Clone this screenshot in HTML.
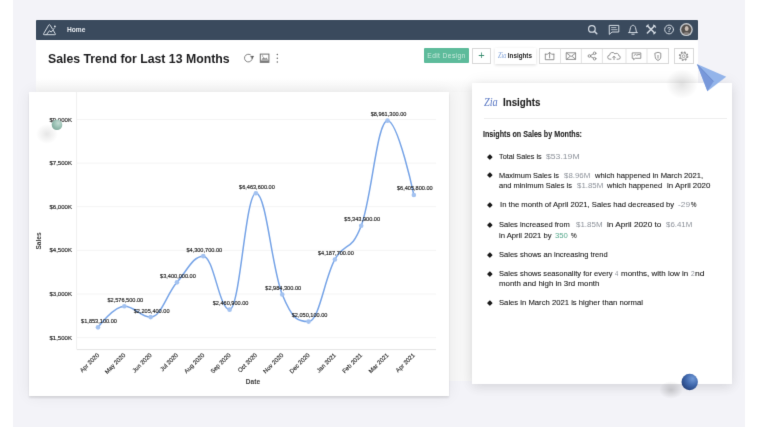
<!DOCTYPE html>
<html><head><meta charset="utf-8">
<style>
*{margin:0;padding:0;box-sizing:border-box}
html,body{width:768px;height:427px;overflow:hidden;background:#fff;font-family:"Liberation Sans",sans-serif;color:#222}
.abs{position:absolute}
#bg{left:13px;top:0;width:732px;height:427px;background:#f3f3f8}
#panel{left:36px;top:20px;width:662px;height:361px;background:#f7f7f7}
#toolbar{left:36px;top:40px;width:662px;height:38px;background:#fff}
#tbfade{left:36px;top:78px;width:662px;height:14px;background:linear-gradient(#fff,#f5f5f5)}
#nav{left:36px;top:20px;width:662px;height:20px;background:#3a4a5d;border-radius:1px}
#nav .home{position:absolute;left:31px;top:5.6px;font-size:6.6px;font-weight:bold;color:#e8ecf1}
#title{left:48px;top:51.1px;font-size:13px;transform:scaleX(0.945);transform-origin:0 0;font-weight:bold;color:#1d1d1f;white-space:nowrap}
#card{left:29px;top:92px;width:420px;height:304px;background:#fff;box-shadow:0 0 14px rgba(0,0,0,0.07),0 1.5px 2px rgba(0,0,0,0.10)}
#ins{left:472px;top:83px;width:260px;height:301px;background:#fff;box-shadow:0 0 14px rgba(0,0,0,0.07),0 4px 10px rgba(0,0,0,0.07)}
.chart{position:absolute;left:0;top:0}
.yl{font-size:6.05px;text-anchor:end;fill:#222;stroke:#222;stroke-width:0.15px}
.dl{font-size:5.6px;text-anchor:middle;fill:#1e1e1e;stroke:#1e1e1e;stroke-width:0.15px}
.xl{font-size:6px;text-anchor:end;fill:#222;stroke:#222;stroke-width:0.12px}
.at{font-size:6.6px;font-weight:bold;fill:#3c3c3c;text-anchor:middle}
.btn{position:absolute;top:48px;height:15.5px;border:1px solid #d9d9d9;background:#fff}
#edit{left:424px;top:48px;width:45px;height:14.6px;background:#5dbb9b;color:#cbe9dd;font-size:6.6px;letter-spacing:0.42px;text-align:center;line-height:15.6px;border-radius:1px;white-space:nowrap}
#plus{left:472px;width:19px;color:#3d8f73;font-size:11px;text-align:center;line-height:13px}
#insb{left:495px;top:48px;width:41px;height:16px;background:#fff;box-shadow:0 1px 3px rgba(0,0,0,0.15);font-size:6.3px;font-weight:bold;line-height:16px;white-space:nowrap}
#grp{left:539px;width:130px}
#gear{left:673.5px;width:20px}
.ins-h{left:503px;top:96px;font-size:10.6px;font-weight:bold;color:#1d1d1f}
.zia{color:#5574c0;font-style:italic;font-family:"Liberation Serif",serif}
#sep{left:484px;top:118px;width:243px;height:1px;background:#eeeeee}
#ins-sub{left:483px;top:130px;font-size:8.2px;font-weight:bold;color:#2a2a2a;white-space:nowrap}
ul.il{position:absolute;left:499px;top:151px;list-style:none;font-size:7.9px;line-height:10.7px;color:#2a2a2a;width:225px}
ul.il li{position:relative;margin-bottom:8.6px}
ul.il li:before{content:"";position:absolute;left:-9.5px;top:3.8px;width:3.2px;height:3.2px;background:#222;transform:rotate(45deg)}
.s.v{color:#8e939b;-webkit-text-stroke:0}
.s.g{color:#56a88c;-webkit-text-stroke:0}
.s,.h1,.h2{position:absolute;font-size:7.8px;line-height:1;white-space:nowrap;transform-origin:0 0;color:#1c1c1c;-webkit-text-stroke:0.1px #1c1c1c}
.h1,.h2{font-weight:bold;color:#1f1f1f}
.bu{position:absolute;left:487.9px;width:3.7px;height:3.7px;background:#1a1a1a;transform:rotate(45deg);border-radius:0.5px}
#ziah{left:483.5px;top:95.3px;font-size:12.6px;color:#5a78c4;transform:scaleX(0.82);transform-origin:0 0}
#wrap{position:absolute;left:0;top:0;width:768px;height:427px;overflow:hidden;will-change:transform;filter:url(#soft)}
</style></head><body><svg width="0" height="0" style="position:absolute"><filter id="soft" x="0" y="0" width="100%" height="100%" color-interpolation-filters="sRGB"><feConvolveMatrix order="3" kernelMatrix="0 1 0 1 8 1 0 1 0" divisor="12" edgeMode="duplicate"/></filter></svg><div id="wrap">
<div id="bg" class="abs"></div>
<div id="panel" class="abs"></div>
<div id="toolbar" class="abs"></div>
<div id="tbfade" class="abs"></div>
<div id="nav" class="abs"><span class="home">Home</span></div>
<div id="title" class="abs">Sales Trend for Last 13 Months</div>
<div id="edit" class="abs">Edit Design</div>
<div id="plus" class="btn">+</div>
<div id="insb" class="abs"><span class="zia" style="position:absolute;left:2.6px;top:0.3px;font-weight:normal;color:#86a6da;font-size:7.4px;transform:scaleX(0.85);transform-origin:0 0">Zia</span><span style="position:absolute;left:12.8px">Insights</span></div>
<div id="grp" class="btn"></div>
<div id="gear" class="btn"></div>
<svg class="chart" width="768" height="427" viewBox="0 0 768 427" style="z-index:1">
<g fill="none" stroke="#d3dae2" stroke-width="1" stroke-linejoin="round" stroke-linecap="round">
<path d="M45.8,34.7 H44.1 Q43.1,34.7 43.6,33.8 L48.7,25.1 Q49.4,24 50.1,25.1 L52.3,28.7"/>
<path d="M53.2,30.3 L55.3,33.8 Q55.8,34.7 54.8,34.7 H46.2"/>
<path d="M46.6,34.4 L49.5,30.7 L51.2,32.1 L54,28.5"/>
<circle cx="54.9" cy="26.5" r="0.9" fill="#e3e8ee" stroke="none"/>
<circle cx="591.9" cy="28.9" r="3.3" stroke-width="1.2"/>
<path d="M594.3,31.3 L596.8,33.8" stroke-width="1.5"/>
<path d="M609.6,25.4 h9.2 v6.6 h-6.8 l-2.4,2.2 Z"/>
<path d="M611.5,27.6 h4.5 M611.5,29.7 h5.5" stroke-width="0.8"/>
<path d="M628.6,32.6 h8.8 M629.6,32.6 c0.3,-1.4 0.3,-3.6 0.9,-5 c0.6,-1.5 1.5,-2.3 2.5,-2.3 c1,0 1.9,0.8 2.5,2.3 c0.6,1.4 0.6,3.6 0.9,5 M631.8,34.2 h2.4"/>
<path d="M647.4,25.8 L654.6,33 M654.6,25.8 L647.4,33" stroke-width="1.6"/><path d="M646.6,26.6 l1.6,-1.6 M653.8,33.8 l1.6,-1.6 M653.6,25.2 l2,2" stroke-width="1.2"/>
<circle cx="669.1" cy="29.5" r="4.4"/>
</g><text x="669.1" y="32.4" font-size="7.2" font-weight="bold" fill="#d3dae2" text-anchor="middle" font-family="Liberation Sans">?</text><g>
</g>
<circle cx="686.3" cy="29.6" r="6.5" fill="#c4c8cd"/>
<circle cx="686.3" cy="29.6" r="5.1" fill="#55504d"/>
<ellipse cx="686.7" cy="28.6" rx="1.9" ry="2.5" fill="#c9bdb4"/>
<path d="M683.2,33.6 c0.9,-1.8 5.6,-1.8 6.6,0 c-1.6,1.4 -5,1.4 -6.6,0 Z" fill="#8a8380"/>
<g fill="none" stroke="#777" stroke-width="0.9" stroke-linecap="round">
<path d="M250.4,54.7 A3.9,3.9 0 1 0 252.3,58.4"/>
<path d="M251,56.3 L253.6,56.3 L252.3,58.3 Z" fill="#444" stroke="#444" stroke-width="0.5"/>
</g>
<g>
<rect x="260.3" y="54.1" width="8.6" height="8.2" fill="none" stroke="#707070" stroke-width="1"/>
<rect x="260.3" y="60.4" width="8.6" height="1.9" fill="#7a7a7a"/>
<path d="M261.4,59.8 l2.2,-2.8 l1.5,1.7 l1.1,-1.2 l1.9,2.3 Z" fill="#8a8a8a"/>
<circle cx="262.6" cy="56" r="0.7" fill="#9a9a9a"/>
</g>
<g fill="#666"><circle cx="277.3" cy="54.6" r="0.75"/><circle cx="277.3" cy="58.3" r="0.75"/><circle cx="277.3" cy="62" r="0.75"/></g>
<g fill="none" stroke="#808080" stroke-width="0.85" stroke-linejoin="round" stroke-linecap="round">
<path d="M545.3,54.2 v5.5 h8.6 v-5.5 M547.3,54.2 h-2 M553.9,54.2 h-2"/>
<path d="M549.6,58 v-5.6 M548,53.9 l1.6,-1.6 l1.6,1.6"/>
<rect x="566.6" y="52.8" width="9" height="6.6"/>
<path d="M566.6,53 l4.5,3.6 l4.5,-3.6"/>
<path d="M566.8,59.2 l3,-2.6 M575.4,59.2 l-3,-2.6"/>
<circle cx="589.4" cy="56" r="1.3"/><circle cx="594.6" cy="53.3" r="1.3"/><circle cx="594.6" cy="58.7" r="1.3"/>
<path d="M590.6,55.4 l2.8,-1.5 M590.6,56.6 l2.8,1.5"/>
<path d="M611,59.2 h-1.2 a2,2 0 0 1 -0.2,-4 a2.8,2.8 0 0 1 5.3,-1.2 a2.2,2.2 0 0 1 3.8,1.6 a1.8,1.8 0 0 1 -0.5,3.6 h-1.2"/>
<path d="M614,59.6 v-3.2 M612.7,57.6 l1.3,-1.3 l1.3,1.3"/>
<path d="M632.6,52.9 h8.2 v5.4 h-5.6 l-1.6,1.5 v-1.5 h-1 Z"/>
<path d="M634,55.6 l1.6,-1.4 l1.6,1.6 M637.6,54.6 h2"/>
<path d="M655.2,53.2 l2.8,-0.9 l2.8,0.9 v3.8 c0,1.8 -1.4,2.8 -2.8,3.4 c-1.4,-0.6 -2.8,-1.6 -2.8,-3.4 Z"/>
<path d="M658,55.4 v2.8"/>
</g>
<g fill="none" stroke="#8a8a8a">
<circle cx="683.6" cy="56.2" r="4.1" stroke-width="1.3" stroke-dasharray="1.6 1.62"/>
<circle cx="683.6" cy="56.2" r="3.3" stroke-width="0.8"/>
<circle cx="683.6" cy="56.2" r="1.4" stroke-width="0.8"/>
</g>
<g stroke="#dcdcdc" stroke-width="0.8"><path d="M560.5,48.5 v14.5 M581.4,48.5 v14.5 M602.4,48.5 v14.5 M626,48.5 v14.5 M647,48.5 v14.5"/></g>
</svg>

<div id="card" class="abs"></div>
<svg class="chart" width="768" height="427" viewBox="0 0 768 427">
<line x1="77" y1="337.6" x2="436" y2="337.6" stroke="#f4f4f4" stroke-width="1"/>
<text x="72" y="339.6" class="yl">$1,500K</text>
<line x1="77" y1="294.0" x2="436" y2="294.0" stroke="#f4f4f4" stroke-width="1"/>
<text x="72" y="296.0" class="yl">$3,000K</text>
<line x1="77" y1="250.4" x2="436" y2="250.4" stroke="#f4f4f4" stroke-width="1"/>
<text x="72" y="252.4" class="yl">$4,500K</text>
<line x1="77" y1="206.7" x2="436" y2="206.7" stroke="#f4f4f4" stroke-width="1"/>
<text x="72" y="208.7" class="yl">$6,000K</text>
<line x1="77" y1="163.1" x2="436" y2="163.1" stroke="#f4f4f4" stroke-width="1"/>
<text x="72" y="165.1" class="yl">$7,500K</text>
<line x1="77" y1="119.5" x2="436" y2="119.5" stroke="#f4f4f4" stroke-width="1"/>
<text x="72" y="121.5" class="yl">$9,000K</text>
<line x1="76.6" y1="92" x2="76.6" y2="349.5" stroke="#f0f0f0" stroke-width="1"/>
<line x1="77" y1="349.6" x2="436" y2="349.6" stroke="#e4e4e4" stroke-width="1"/>
<path d="M98.00,327.33 C98.00,327.33 113.79,306.30 124.32,306.30 C134.85,306.30 140.11,317.09 150.64,317.09 C161.17,317.09 166.43,294.53 176.96,282.35 C187.49,270.16 192.75,256.16 203.28,256.16 C213.81,256.16 219.07,309.66 229.60,309.66 C240.13,309.66 245.39,193.26 255.92,193.26 C266.45,193.26 271.71,268.77 282.24,294.44 C292.77,320.11 298.03,321.60 308.56,321.60 C319.09,321.60 324.35,278.60 334.88,259.44 C345.41,240.28 350.67,253.58 361.20,225.82 C371.73,198.06 376.99,120.63 387.52,120.63 C398.05,120.63 413.84,194.94 413.84,194.94" fill="none" stroke="#77a4e7" stroke-width="1.5"/>
<circle cx="98.00" cy="327.33" r="2.3" fill="#a3c2f0"/>
<circle cx="124.32" cy="306.30" r="2.3" fill="#a3c2f0"/>
<circle cx="150.64" cy="317.09" r="2.3" fill="#a3c2f0"/>
<circle cx="176.96" cy="282.35" r="2.3" fill="#a3c2f0"/>
<circle cx="203.28" cy="256.16" r="2.3" fill="#a3c2f0"/>
<circle cx="229.60" cy="309.66" r="2.3" fill="#a3c2f0"/>
<circle cx="255.92" cy="193.26" r="2.3" fill="#a3c2f0"/>
<circle cx="282.24" cy="294.44" r="2.3" fill="#a3c2f0"/>
<circle cx="308.56" cy="321.60" r="2.3" fill="#a3c2f0"/>
<circle cx="334.88" cy="259.44" r="2.3" fill="#a3c2f0"/>
<circle cx="361.20" cy="225.82" r="2.3" fill="#a3c2f0"/>
<circle cx="387.52" cy="120.63" r="2.3" fill="#a3c2f0"/>
<circle cx="413.84" cy="194.94" r="2.3" fill="#a3c2f0"/>
<text x="99.00" y="322.83" class="dl">$1,853,100.00</text>
<text x="125.32" y="301.80" class="dl">$2,576,500.00</text>
<text x="151.64" y="312.59" class="dl">$2,205,400.00</text>
<text x="177.96" y="277.85" class="dl">$3,400,000.00</text>
<text x="204.28" y="251.66" class="dl">$4,300,700.00</text>
<text x="230.60" y="305.16" class="dl">$2,460,900.00</text>
<text x="256.92" y="188.76" class="dl">$6,463,600.00</text>
<text x="283.24" y="289.94" class="dl">$2,984,300.00</text>
<text x="309.56" y="317.10" class="dl">$2,050,100.00</text>
<text x="335.88" y="254.94" class="dl">$4,187,700.00</text>
<text x="362.20" y="221.32" class="dl">$5,343,900.00</text>
<text x="388.52" y="116.13" class="dl">$8,961,300.00</text>
<text x="414.84" y="190.44" class="dl">$6,405,800.00</text>
<text transform="translate(99.50,355.6) rotate(-45)" class="xl">Apr 2020</text>
<text transform="translate(125.82,355.6) rotate(-45)" class="xl">May 2020</text>
<text transform="translate(152.14,355.6) rotate(-45)" class="xl">Jun 2020</text>
<text transform="translate(178.46,355.6) rotate(-45)" class="xl">Jul 2020</text>
<text transform="translate(204.78,355.6) rotate(-45)" class="xl">Aug 2020</text>
<text transform="translate(231.10,355.6) rotate(-45)" class="xl">Sep 2020</text>
<text transform="translate(257.42,355.6) rotate(-45)" class="xl">Oct 2020</text>
<text transform="translate(283.74,355.6) rotate(-45)" class="xl">Nov 2020</text>
<text transform="translate(310.06,355.6) rotate(-45)" class="xl">Dec 2020</text>
<text transform="translate(336.38,355.6) rotate(-45)" class="xl">Jan 2021</text>
<text transform="translate(362.70,355.6) rotate(-45)" class="xl">Feb 2021</text>
<text transform="translate(389.02,355.6) rotate(-45)" class="xl">Mar 2021</text>
<text transform="translate(415.34,355.6) rotate(-45)" class="xl">Apr 2021</text>
<text x="253" y="383.5" class="at">Date</text>
<text transform="translate(41,241) rotate(-90)" class="at">Sales</text>
</svg>
<div id="ins" class="abs"></div>
<div id="sep" class="abs"></div>
<span id="ziah" class="abs zia">Zia</span>
<span class="s" style="left:498.70px;top:152.70px;transform:scaleX(0.930)">Total Sales is</span>
<span class="s v" style="left:546.00px;top:152.70px;transform:scaleX(1.106)">$53.19M</span>
<span class="s" style="left:498.90px;top:171.50px;transform:scaleX(0.949)">Maximum Sales is</span>
<span class="s v" style="left:564.00px;top:171.50px;transform:scaleX(1.011)">$8.96M</span>
<span class="s" style="left:594.68px;top:171.50px;transform:scaleX(0.978)">which happened in March 2021,</span>
<span class="s" style="left:498.90px;top:182.20px;transform:scaleX(0.956)">and minimum Sales is</span>
<span class="s v" style="left:577.00px;top:182.20px;transform:scaleX(1.011)">$1.85M</span>
<span class="s" style="left:607.07px;top:182.20px;transform:scaleX(0.971)">which happened</span>
<span class="s" style="left:667.00px;top:182.20px;transform:scaleX(1.011)">in April 2020</span>
<span class="s" style="left:500.00px;top:201.40px;transform:scaleX(0.985)">In the month of April 2021, Sales had decreased by</span>
<span class="s v" style="left:677.70px;top:201.40px;transform:scaleX(1.070)">-29</span>
<span class="s" style="left:691.40px;top:201.40px;transform:scaleX(0.786)">%</span>
<span class="s" style="left:498.90px;top:220.90px;transform:scaleX(0.966)">Sales increased from</span>
<span class="s v" style="left:575.90px;top:220.90px;transform:scaleX(1.023)">$1.85M</span>
<span class="s" style="left:607.00px;top:220.90px;transform:scaleX(1.054)">in April 2020 to</span>
<span class="s v" style="left:666.40px;top:220.90px;transform:scaleX(1.011)">$6.41M</span>
<span class="s" style="left:498.90px;top:231.70px;transform:scaleX(0.986)">in April 2021 by</span>
<span class="s g" style="left:555.20px;top:231.70px;transform:scaleX(0.991)">350</span>
<span class="s" style="left:571.25px;top:231.70px;transform:scaleX(0.821)">%</span>
<span class="s" style="left:498.90px;top:251.10px;transform:scaleX(0.968)">Sales shows an increasing trend</span>
<span class="s" style="left:498.90px;top:270.00px;transform:scaleX(0.966)">Sales shows seasonality for every</span>
<span class="s v" style="left:615.20px;top:270.00px;transform:scaleX(0.760)">4</span>
<span class="s" style="left:621.40px;top:270.00px;transform:scaleX(1.021)">months, with low in</span>
<span class="s v" style="left:691.40px;top:270.00px;transform:scaleX(0.850)">2</span>
<span class="s" style="left:694.80px;top:270.00px;transform:scaleX(1.092)">nd</span>
<span class="s" style="left:498.90px;top:279.80px;transform:scaleX(1.011)">month and high in 3rd month</span>
<span class="s" style="left:498.90px;top:299.30px;transform:scaleX(0.985)">Sales in March 2021 is higher than normal</span>
<i class="bu" style="top:154.55px"></i>
<i class="bu" style="top:173.35px"></i>
<i class="bu" style="top:203.25px"></i>
<i class="bu" style="top:222.75px"></i>
<i class="bu" style="top:252.95px"></i>
<i class="bu" style="top:271.85px"></i>
<i class="bu" style="top:301.15px"></i>
<span class="h2" style="left:483.20px;top:131.46px;font-size:8.2px;transform:scaleX(0.874)">Insights on Sales by Months:</span>
<span class="h1" style="left:503.40px;top:97.90px;font-size:10.4px;transform:scaleX(0.939)">Insights</span>
<svg class="chart" width="768" height="427" viewBox="0 0 768 427">
<defs>
<radialGradient id="gs" cx="0.62" cy="0.35" r="0.75"><stop offset="0" stop-color="#c3dbd3"/><stop offset="0.55" stop-color="#98bfb2"/><stop offset="1" stop-color="#7aa496"/></radialGradient>
<radialGradient id="bs" cx="0.68" cy="0.3" r="0.8"><stop offset="0" stop-color="#7199d6"/><stop offset="0.5" stop-color="#4169ad"/><stop offset="1" stop-color="#233f78"/></radialGradient>
<radialGradient id="sh"><stop offset="0" stop-color="#000" stop-opacity="0.16"/><stop offset="1" stop-color="#000" stop-opacity="0"/></radialGradient>
</defs>
<ellipse cx="47" cy="134" rx="11" ry="10" fill="url(#sh)" opacity="0.6"/>
<circle cx="57" cy="124.7" r="5.3" fill="url(#gs)"/>
<ellipse cx="682" cy="84" rx="16" ry="15" fill="url(#sh)" opacity="0.7"/>
<polygon points="696.9,64.1 726.2,76.7 707.4,91.3" fill="#93b4ea"/>
<polygon points="696.9,64.1 713.6,81.5 707.4,91.3" fill="#7898da"/>
<path d="M697.5,64.8 L713.6,81.5" stroke="#5a7cc0" stroke-width="0.6"/>
<ellipse cx="671" cy="390" rx="12" ry="9" fill="url(#sh)"/>
<circle cx="689.7" cy="382" r="8.2" fill="url(#bs)"/>
</svg>

</div></body></html>
